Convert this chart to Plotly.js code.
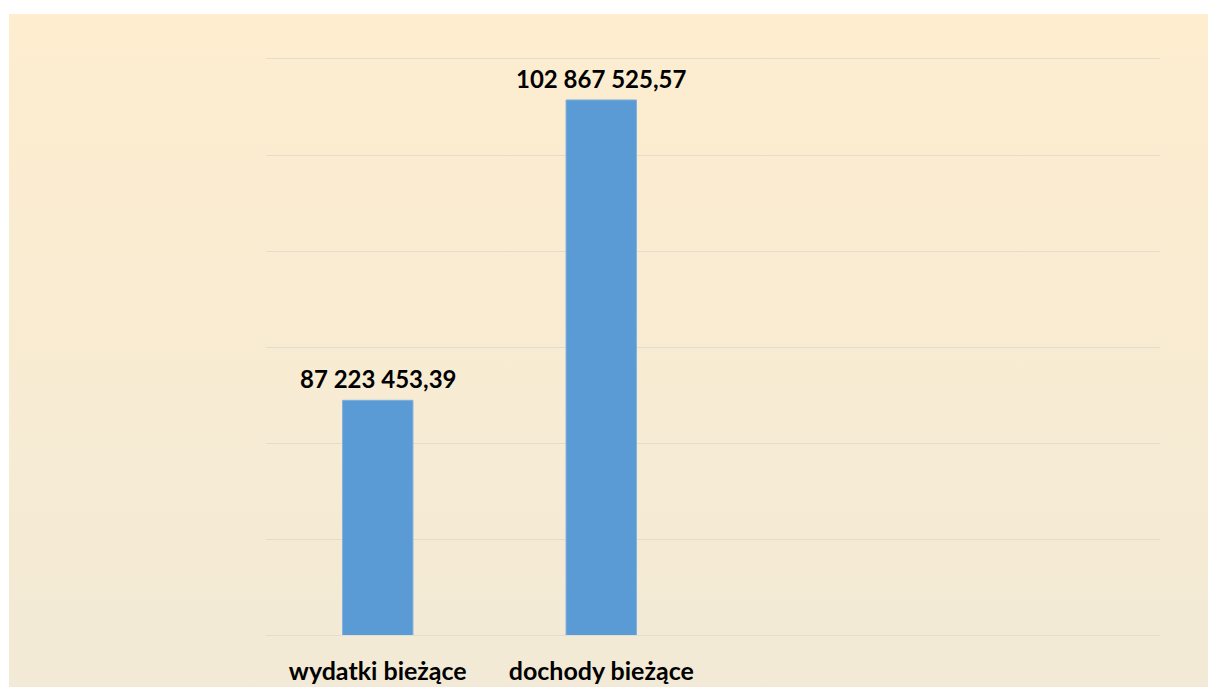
<!DOCTYPE html>
<html>
<head>
<meta charset="utf-8">
<script src="https://cdn.plot.ly/plotly-3.0.1.min.js"></script>
<style>
  html, body { margin: 0; padding: 0; background: #ffffff; width: 1208px; height: 687px; overflow: hidden; }
  #bg { position: absolute; left: 9px; top: 14px; width: 1199px; height: 673px;
        background: linear-gradient(to bottom, #FEEDCF 0%, #F2EAD6 100%); }
  #chart { position: absolute; left: 0; top: 0; width: 1208px; height: 687px; }
</style>
</head>
<body>
<div id="bg"></div>
<div id="chart"></div>
<script>
const categories = ['wydatki bieżące', 'dochody bieżące'];
const values = [87223453.39, 102867525.57];

const labelFont = { family: 'Lato, sans-serif', size: 24, color: '#000000', weight: 'bold' };

function fmt(v) {
  const parts = v.toFixed(2).split('.');
  return parts[0].replace(/\B(?=(\d{3})+(?!\d))/g, ' ') + ',' + parts[1];
}

const trace = {
  type: 'bar',
  x: categories,
  y: values,
  marker: { color: '#5B9BD5', line: { color: '#7FB0DE', width: 1 } },
  hoverinfo: 'none'
};

const annotations = categories.map((c, i) => ({
  x: c, y: values[i], xref: 'x', yref: 'y',
  text: fmt(values[i]),
  showarrow: false,
  xanchor: 'center', yanchor: 'bottom',
  yshift: 5,
  font: labelFont
}));

const layout = {
  width: 1208, height: 687,
  margin: { l: 266, r: 48, t: 58.5, b: 52 },
  paper_bgcolor: 'rgba(0,0,0,0)',
  plot_bgcolor: 'rgba(0,0,0,0)',
  bargap: 0.685,
  showlegend: false,
  annotations: annotations,
  xaxis: {
    type: 'category',
    range: [-0.5, 3.5],
    showgrid: false,
    showline: true, mirror: true, linecolor: '#E3DCD0', linewidth: 1,
    ticks: '',
    tickfont: { family: 'Lato, sans-serif', size: 25, color: '#000000', weight: 'bold' },
    ticklabelstandoff: 14
  },
  yaxis: {
    range: [75000000, 105000000],
    dtick: 5000000,
    showgrid: true, gridcolor: '#E3DCD0', gridwidth: 1,
    zeroline: false,
    showticklabels: false,
    ticks: ''
  }
};

Plotly.newPlot('chart', [trace], layout, { staticPlot: true });
</script>
</body>
</html>
